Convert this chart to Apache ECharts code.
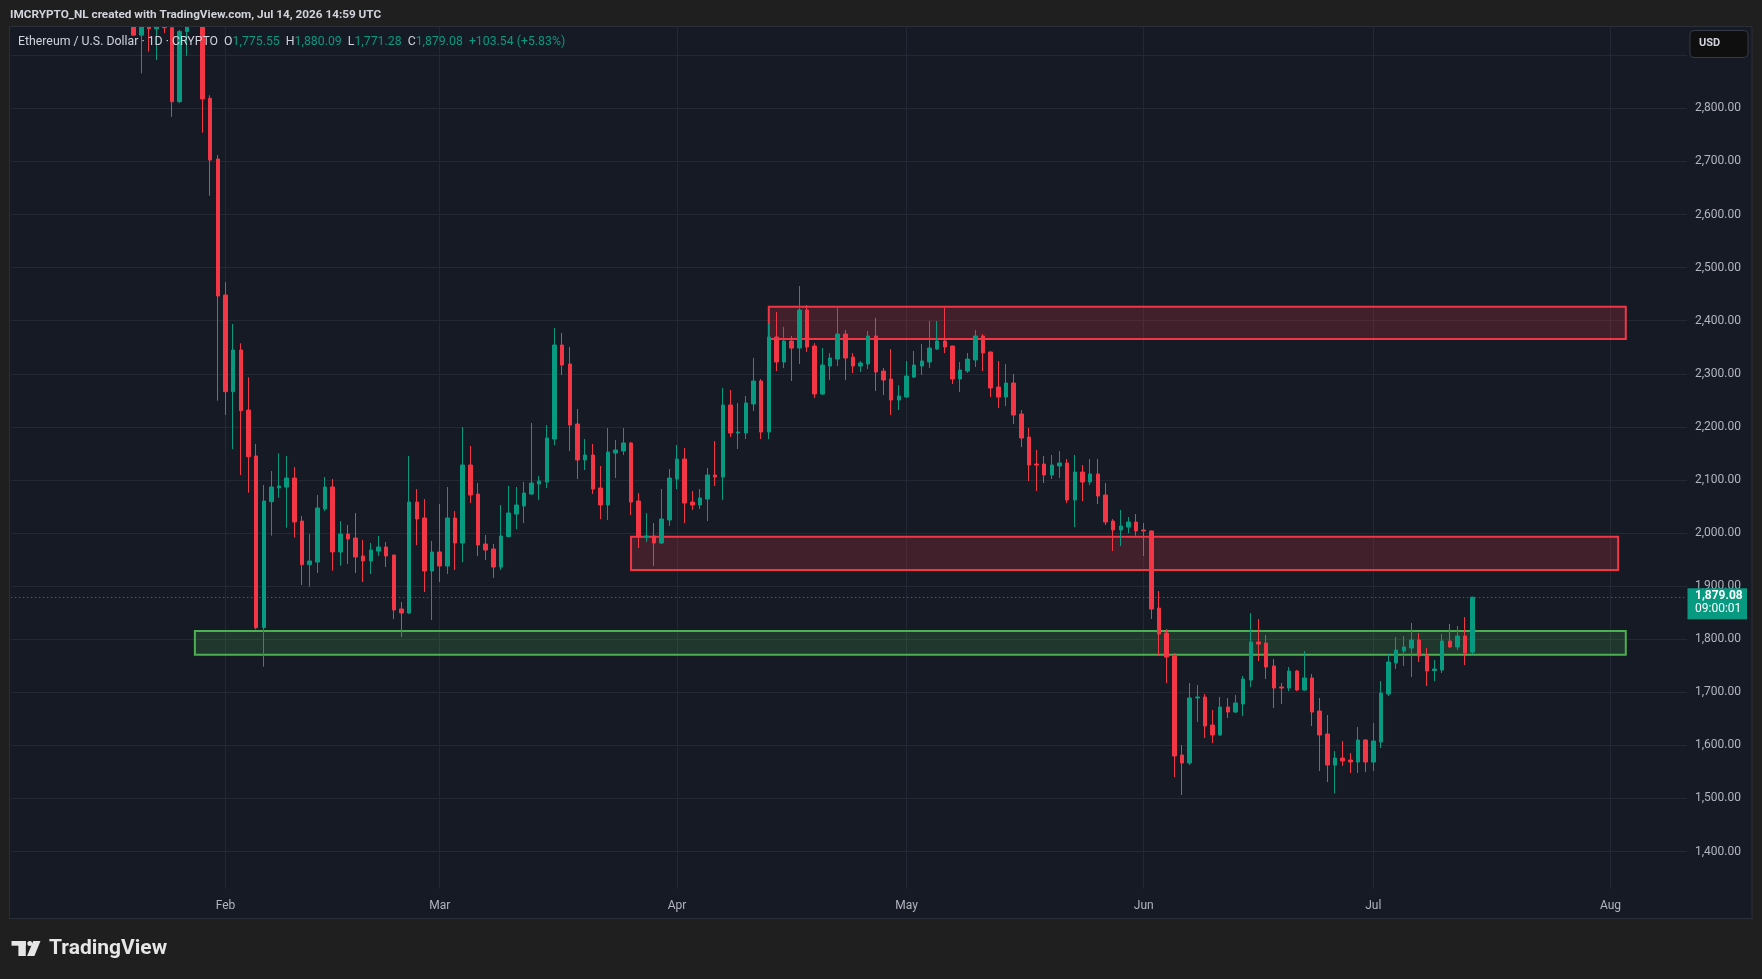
<!DOCTYPE html>
<html>
<head>
<meta charset="utf-8">
<title>ETHUSD 1D</title>
<script src="https://cdn.jsdelivr.net/npm/echarts@6.0.0/dist/echarts.min.js"></script>
<style>
html, body { margin: 0; padding: 0; background: #1f1f1f; }
#chart { width: 1762px; height: 979px; }
</style>
</head>
<body>
<div id="chart"></div>
<script>
// time axis: one category per day
const firstDay = '2026-01-04';
const dayCount = 220;
const firstCandle = '2026-01-20';
const monthNames = ['Jan', 'Feb', 'Mar', 'Apr', 'May', 'Jun', 'Jul', 'Aug', 'Sep', 'Oct', 'Nov', 'Dec'];

// daily candles, [open, close, low, high]
const candlesJan = [
  [2975, 2938, 2937, 2990], [2938, 2968, 2866, 2985], [2968, 2950, 2907, 2975], [2950, 2962, 2891, 2975],
  [2962, 2952, 2942, 2968], [2952, 2812.6, 2784.4, 2975], [2812.6, 2945, 2810, 2948], [2945, 2975, 2899, 2990],
  [2975, 2995, 2960, 3010], [2995, 2817.7, 2754.2, 3005], [2819, 2702.7, 2635.5, 2824.6], [2704.6, 2446.5, 2249.3, 2712.2]
];
const candlesFeb = [
  [2448.4, 2266.3, 2222.3, 2472.3], [2266.3, 2344.8, 2158.3, 2393.8], [2344.8, 2230.5, 2109.3, 2357.4], [2231.7, 2143.8, 2076.0, 2293.3],
  [2145.1, 1821.7, 1818.5, 2167.7], [1821.7, 2060.3, 1748.2, 2090.5], [2059, 2086.7, 1995.0, 2116.9], [2085, 2088.6, 2066.6, 2150.1],
  [2086.7, 2103.7, 2010.1, 2145.1], [2103.7, 2020.8, 1991.3, 2124.4], [2022.6, 1940.4, 1902.1, 2032.1], [1940.4, 1947.3, 1898.9, 1998.1],
  [1945.4, 2047.2, 1924.7, 2071.6], [2045.3, 2086.7, 2041.5, 2105.6], [2086.7, 1964.3, 1929.1, 2101.8], [1964.3, 1998.2, 1938.5, 2022.6],
  [1998.2, 1988.7, 1941.7, 2015.1], [1990.6, 1954.8, 1924.7, 2037.7], [1956.7, 1947.3, 1907.7, 1986.8], [1947.3, 1968.0, 1922.8, 1981.2],
  [1966, 1973.7, 1956.7, 1994.4], [1973.7, 1956.7, 1936.0, 1983.1], [1958.6, 1855.0, 1838.0, 1958.6], [1856.9, 1849.3, 1804.1, 1870.1],
  [1849.3, 2058.4, 1847.4, 2145.1], [2058.4, 2026.4, 1977.4, 2082.9], [2028.3, 1928.5, 1888.9, 2064.1], [1928.5, 1964.3, 1836.1, 1985.0]
];
const candlesMar = [
  [1964.3, 1937.9, 1907.7, 2054.7], [1937.9, 2028.3, 1922.8, 2086.7], [2028.3, 1981.2, 1930.3, 2041.5], [1981.2, 2128.2, 1945.0, 2199.7],
  [2128.2, 2071.6, 2056.6, 2164], [2073.5, 1977.4, 1956.7, 2094.2], [1979.3, 1968.0, 1949.2, 1996.3], [1969.9, 1936.0, 1915.3, 1979.3],
  [1936.0, 1994.4, 1930.3, 2052.8], [1993.5, 2037.7, 1992, 2088.6], [2035.8, 2052.8, 2007.6, 2086.7], [2050.9, 2075.4, 2018.9, 2096.1],
  [2073.5, 2094.2, 2071.6, 2207.3], [2092.4, 2098.0, 2062.2, 2107.4], [2096.1, 2179.0, 2084.8, 2203.5], [2177.1, 2354.2, 2165.8, 2386.2],
  [2354.2, 2316.5, 2297.7, 2376.8], [2318.4, 2203.5, 2154.5, 2350.5], [2205.4, 2137.6, 2101.8, 2233.6], [2137.6, 2147.0, 2118.7, 2177.1],
  [2147.0, 2082.9, 2073.5, 2167.7], [2084.8, 2052.8, 2026.4, 2126.3], [2052.8, 2152.6, 2024.5, 2197.8], [2150.7, 2156.4, 2103.6, 2175.2],
  [2154.5, 2169.6, 2147.0, 2197.8], [2169.6, 2058.4, 2033.9, 2171.5], [2060.3, 1992.5, 1971.8, 2075.4], [1992.5, 1994.4, 1983.1, 2037.7],
  [1994.4, 1981.2, 1937.9, 2018.9], [1981.2, 2026.4, 1979.3, 2082.9], [2024.5, 2103.6, 2013.2, 2120.6]
];
const candlesApr = [
  [2101.8, 2139.4, 2082.9, 2165.8], [2139.4, 2056.5, 2018.9, 2160.2], [2058.4, 2052.8, 2043.4, 2079.2], [2052.8, 2066.0, 2045.2, 2082.9],
  [2064.1, 2109.3, 2022.6, 2122.5], [2109.3, 2105.5, 2088.6, 2173.4], [2105.5, 2241.2, 2062.2, 2273.2], [2241.2, 2188.4, 2180.9, 2269.4],
  [2188.4, 2190.3, 2158.3, 2245.0], [2188.4, 2245.0, 2177.1, 2258.1], [2243.1, 2286.4, 2229.9, 2329.7], [2286.4, 2190.3, 2177.1, 2290.2],
  [2190.3, 2369.3, 2177.1, 2393.8], [2369.3, 2322.2, 2305.2, 2416.4], [2322.2, 2361.7, 2310.9, 2388.1], [2361.7, 2348.5, 2286.4, 2371.2],
  [2348.5, 2420.1, 2318.4, 2465.4], [2420.1, 2350.4, 2341.0, 2429.6], [2352.3, 2261.9, 2254.3, 2358.0], [2261.9, 2316.5, 2260, 2348.5],
  [2314.6, 2329.7, 2288.3, 2339.1], [2327.8, 2374.9, 2314.6, 2423.9], [2374.9, 2329.7, 2288.3, 2382.5], [2331.6, 2314.6, 2301.5, 2339.1],
  [2314.6, 2320.3, 2303.3, 2324], [2318.4, 2371.2, 2309.0, 2380.6], [2371.2, 2303.3, 2267.5, 2405.1], [2305.2, 2288.3, 2260.0, 2310.9],
  [2290.2, 2250.6, 2222.3, 2346.7], [2250.6, 2258.1, 2231.7, 2278.8]
];
const candlesMay = [
  [2256.2, 2295.8, 2255, 2324.1], [2293.9, 2316.5, 2292, 2342.9], [2314.6, 2324.1, 2297.7, 2356.1], [2322.2, 2348.5, 2310.9, 2399.4],
  [2346.7, 2361.7, 2344.8, 2399.4], [2361.7, 2350.4, 2339.1, 2423.9], [2352.3, 2290.2, 2280.7, 2353], [2290.2, 2307.1, 2265.7, 2322.2],
  [2305.2, 2327.8, 2301.5, 2339.1], [2326.0, 2371.2, 2312.8, 2382.5], [2371.2, 2339.1, 2305.2, 2374.9], [2341.0, 2273.2, 2256.2, 2342],
  [2275.1, 2256.2, 2235.5, 2324.1], [2256.2, 2282.6, 2239.3, 2318.4], [2282.6, 2222.3, 2205.4, 2299.6], [2224.2, 2179.0, 2162.0, 2231.7],
  [2180.9, 2128.1, 2098.0, 2197.8], [2130, 2128.1, 2079.2, 2156.4], [2130.0, 2109.3, 2094.2, 2145.1], [2109.3, 2128.1, 2101.8, 2147.0],
  [2126.3, 2131.9, 2103.6, 2154.5], [2131.9, 2062.2, 2056.5, 2139.4], [2062.2, 2114.9, 2011.3, 2147.0], [2114.9, 2096.1, 2060.3, 2128.1],
  [2096.1, 2111.2, 2090.4, 2139.4], [2111.2, 2069.7, 2054.6, 2139.4], [2071.6, 2020.7, 2015.1, 2094.2], [2022.6, 2005.7, 1966.1, 2026.4],
  [2005.7, 2013.2, 1975.5, 2043.3], [2011.3, 2020.7, 2000.0, 2030.2], [2020.7, 2003.8, 1995, 2035.8]
];
const candlesJun = [
  [2005.7, 2003.8, 1956.7, 2018.9], [2003.8, 1856.8, 1838.0, 2005], [1858.7, 1809.7, 1770.2, 1890.8], [1811.6, 1766.4, 1717.4, 1819.2],
  [1768.3, 1579.9, 1540.3, 1774.0], [1581.8, 1566.7, 1506.4, 1600.6], [1566.7, 1689.2, 1562.9, 1717.4], [1689.2, 1691.1, 1644.0, 1713.7],
  [1691.1, 1636.4, 1613.8, 1696.7], [1638.3, 1619.5, 1604.4, 1666.6], [1619.5, 1672.2, 1618, 1691.1], [1672.2, 1662.8, 1651.5, 1689.2],
  [1662.8, 1679.7, 1661, 1694.8], [1677.9, 1725.0, 1655.3, 1730.6], [1723.1, 1794.7, 1709.9, 1849.3], [1794.7, 1790.9, 1758.9, 1838.0],
  [1792.8, 1747.6, 1725.0, 1807.9], [1749.5, 1708.0, 1670.3, 1762.6], [1709.9, 1708.0, 1677.9, 1717.4], [1708.0, 1740.0, 1702.4, 1747.6],
  [1740.0, 1704.2, 1702.4, 1742], [1704.2, 1726.9, 1703, 1777.7], [1726.9, 1662.8, 1636.4, 1734.4], [1664.7, 1619.5, 1551.6, 1689.2],
  [1621.4, 1562.9, 1530.9, 1657.2], [1562.9, 1576.1, 1510.2, 1589.3], [1576.1, 1570.5, 1561.1, 1608.2], [1572.4, 1568.6, 1547.9, 1585.5],
  [1568.6, 1610.0, 1547.9, 1634.5], [1610.0, 1568.6, 1549.8, 1611.9]
];
const candlesJul = [
  [1568.6, 1608.2, 1551.6, 1642.1], [1606.3, 1698.6, 1595.0, 1721.2], [1696.7, 1757.0, 1692.9, 1772.1], [1755.1, 1779.6, 1743.8, 1804.1],
  [1777.7, 1785.3, 1749.5, 1806.0], [1783.4, 1798.4, 1728.7, 1830.5], [1798.4, 1768.3, 1757.0, 1811.6], [1770.2, 1740.0, 1711.8, 1783.4],
  [1741.0, 1743.8, 1721.2, 1760.8], [1741.9, 1796.6, 1736.3, 1809.8], [1796.6, 1785.3, 1784, 1828.6], [1785.3, 1806.0, 1779.6, 1824.8],
  [1806.0, 1774.0, 1751.4, 1841.8], [1775.55, 1879.08, 1771.28, 1880.09]
];

// drawn zones: [from, to, low, high, kind]
const zones = [
  ['2026-04-13', '2026-08-03', 2365.6, 2426.5, 'supply'],
  ['2026-03-26', '2026-08-02', 1930.5, 1993.0, 'supply'],
  ['2026-01-28', '2026-08-03', 1770.5, 1815.5, 'demand']
];

const lastPrice = 1879.08;
const lastTimer = '09:00:01';
const priceTicks = [1400, 1500, 1600, 1700, 1800, 1900, 2000, 2100, 2200, 2300, 2400, 2500, 2600, 2700, 2800];
const headerText = 'IMCRYPTO_NL created with TradingView.com, Jul 14, 2026 14:59 UTC';

const UP = '#089981';
const DOWN = '#f23645';

// build the category list
const days = [];
const t0 = new Date(firstDay + 'T00:00:00Z').getTime();
for (let i = 0; i < dayCount; i++) {
  days.push(new Date(t0 + i * 86400000).toISOString().slice(0, 10));
}
const candles = days.slice(0, days.indexOf(firstCandle)).map(() => ['-', '-', '-', '-'])
  .concat(candlesJan, candlesFeb, candlesMar, candlesApr, candlesMay, candlesJun, candlesJul);

const isMonthStart = (idx, v) => v.slice(8) === '01';
const fmtPrice = v => v.toLocaleString('en-US', { minimumFractionDigits: 2, maximumFractionDigits: 2 });

const zoneAreas = zones.map(z => {
  const red = z[4] === 'supply';
  return [
    {
      xAxis: z[0], yAxis: z[3],
      itemStyle: {
        color: red ? 'rgba(242,54,69,0.2)' : 'rgba(76,175,80,0.2)',
        borderColor: red ? '#f23645' : '#4caf50',
        borderWidth: 2
      }
    },
    { xAxis: z[1], yAxis: z[2] }
  ];
});

const chart = echarts.init(document.getElementById('chart'));

const option = {
  animation: false,
  backgroundColor: '#161a25',
  textStyle: { fontFamily: 'Roboto, "Noto Sans", sans-serif' },
  grid: { left: 11.24, right: 75, top: 26.7, bottom: 89 },
  xAxis: {
    type: 'category',
    data: days,
    boundaryGap: false,
    axisLine: { show: false },
    axisTick: { show: false },
    axisLabel: {
      interval: isMonthStart,
      formatter: v => monthNames[+v.slice(5, 7) - 1],
      color: '#b2b5be',
      fontSize: 12,
      margin: 10
    },
    splitLine: { show: true, interval: isMonthStart, lineStyle: { color: '#242834', width: 1 } }
  },
  yAxis: {
    type: 'value',
    position: 'right',
    min: 1327.5,
    max: 2953.9,
    splitNumber: 16,
    minInterval: 100,
    maxInterval: 100,
    axisLine: { show: false },
    axisTick: { show: false },
    axisLabel: {
      color: '#b2b5be',
      fontSize: 12,
      margin: 8,
      formatter: v => priceTicks.indexOf(Math.round(v)) >= 0 && Math.abs(v - Math.round(v)) < 1e-6 ? fmtPrice(v) : ''
    },
    splitLine: { show: true, lineStyle: { color: '#242834', width: 1 } }
  },
  series: [
    {
      type: 'candlestick',
      data: candles,
      barWidth: 4,
      clip: true,
      itemStyle: {
        color: UP, color0: DOWN,
        borderColor: UP, borderColor0: DOWN,
        borderWidth: 1
      },
      markArea: { silent: true, label: { show: false }, data: zoneAreas },
      markLine: {
        silent: true,
        symbol: ['none', 'none'],
        label: { show: false },
        lineStyle: { color: UP, type: [1, 3], width: 1 },
        data: [{ yAxis: lastPrice }]
      }
    }
  ]
};
chart.setOption(option);

// frame, header, legend, footer and the last price tag
const yLast = chart.convertToPixel({ yAxisIndex: 0 }, lastPrice);
const frame = '#1f1f1f';
chart.setOption({
  graphic: [
    // hide the split line that sits on the bottom edge of the plot
    { type: 'rect', shape: { x: 9.5, y: 888.5, width: 1680, height: 3 }, style: { fill: '#161a25' }, z: 50 },
    { type: 'rect', shape: { x: 0, y: 0, width: 1762, height: 26.5 }, style: { fill: frame }, z: 50 },
    { type: 'rect', shape: { x: 0, y: 918.5, width: 1762, height: 61 }, style: { fill: frame }, z: 50 },
    { type: 'rect', shape: { x: 0, y: 0, width: 9.5, height: 979 }, style: { fill: frame }, z: 50 },
    { type: 'rect', shape: { x: 1752, y: 0, width: 10, height: 979 }, style: { fill: frame }, z: 50 },
    { type: 'rect', shape: { x: 9.5, y: 26.5, width: 1742.5, height: 892 }, style: { fill: null, stroke: '#2a2e39', lineWidth: 1 }, z: 51 },
    {
      type: 'text', left: 10, top: 9, z: 60,
      style: { text: headerText, fill: '#d1d4dc', font: 'bold 11.75px Roboto, sans-serif' }
    },
    {
      type: 'text', left: 18, top: 35.5, z: 60,
      style: {
        text: '{t|Ethereum / U.S. Dollar · 1D · CRYPTO}  {k|O}{v|1,775.55}  {k|H}{v|1,880.09}  {k|L}{v|1,771.28}  {k|C}{v|1,879.08}  {v|+103.54 (+5.83%)}',
        font: '12.3px Roboto, sans-serif',
        rich: {
          t: { fill: '#d1d4dc', font: '12.3px Roboto, sans-serif' },
          k: { fill: '#d1d4dc', font: '12.3px Roboto, sans-serif' },
          v: { fill: UP, font: '12.3px Roboto, sans-serif' }
        }
      }
    },
    // USD button
    { type: 'rect', shape: { x: 1690, y: 30.5, width: 58, height: 27, r: 4 }, style: { fill: '#0f0f0f', stroke: '#363a45', lineWidth: 1 }, z: 60 },
    { type: 'text', left: 1699, top: 38, z: 61, style: { text: 'USD', fill: '#d1d4dc', font: 'bold 11px Roboto, sans-serif' } },
    // last price tag
    { type: 'rect', shape: { x: 1687.5, y: yLast - 9, width: 59.5, height: 31 }, style: { fill: UP }, z: 60 },
    { type: 'text', left: 1695, top: yLast - 7, z: 61, style: { text: fmtPrice(lastPrice), fill: '#ffffff', font: 'bold 12px Roboto, sans-serif' } },
    { type: 'text', left: 1695, top: yLast + 6, z: 61, style: { text: lastTimer, fill: '#ffffff', font: '12px Roboto, sans-serif' } },
    // TradingView footer logo
    { type: 'rect', shape: { x: 11.5, y: 941, width: 14.3, height: 4.7 }, style: { fill: '#e6e6e6' }, z: 60 },
    { type: 'rect', shape: { x: 18.4, y: 941, width: 7.4, height: 15 }, style: { fill: '#e6e6e6' }, z: 60 },
    { type: 'circle', shape: { cx: 29.8, cy: 943.4, r: 2.5 }, style: { fill: '#e6e6e6' }, z: 60 },
    { type: 'polygon', shape: { points: [[33.2, 941], [40.5, 941], [34.4, 956], [27.1, 956]] }, style: { fill: '#e6e6e6' }, z: 60 },
    { type: 'text', left: 49, top: 938, z: 60, style: { text: 'TradingView', fill: '#e6e6e6', font: 'bold 21px Roboto, sans-serif' } }
  ]
});
</script>
</body>
</html>
